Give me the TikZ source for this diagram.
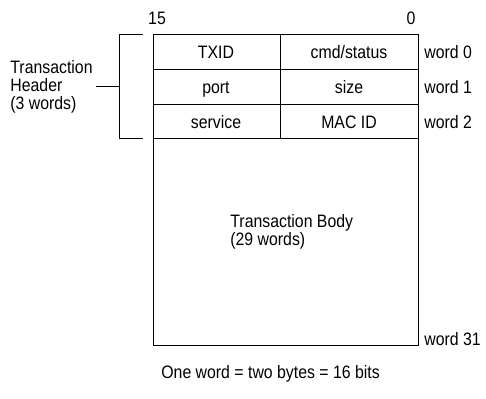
\documentclass[tikz,border=0pt]{standalone}
\usepackage{fontspec}
\setmainfont{Liberation Sans}[FakeStretch=0.88]
\usepackage{tikz}

\begin{document}
\begin{tikzpicture}[x=1pt,y=-1pt,line width=0.8pt]
\tikzstyle{lbl}=[inner sep=0pt,font=\fontsize{18}{18}\selectfont]
\tikzstyle{cell}=[lbl,anchor=center,text height=13pt,text depth=0pt]
\tikzstyle{wrd}=[cell,anchor=west]
\useasboundingbox (0,0) rectangle (486,398);
% frame of the 32 words
\draw (153,34) rectangle (418,345);
\draw (153,69) -- (418,69);
\draw (153,104) -- (418,104);
\draw (153,138) -- (418,138);
\draw (280,34) -- (280,138);
% bit numbers
\node[cell] (b15) at (157,18) {15};
\node[cell] (b0) at (411,18) {0};
% header fields
\node[cell] (txid) at (216,52) {TXID};
\node[cell] (cmd) at (349,52) {cmd/status};
\node[cell] (port) at (216,87) {port};
\node[cell] (size) at (349,87) {size};
\node[cell] (svc) at (216,122) {service};
\node[cell] (mac) at (349,122) {MAC ID};
% word numbers
\node[wrd] (w0) at (424,52) {word 0};
\node[wrd] (w1) at (424,87) {word 1};
\node[wrd] (w2) at (424,122) {word 2};
\node[wrd] (w31) at (424,339) {word 31};
% body
\node[lbl,anchor=base west,align=left] (body) at (230,245) {Transaction Body\\(29 words)};
% header bracket
\node[lbl,anchor=base west,align=left] (hdr) at (10,110) {Transaction\\Header\\(3 words)};
\draw (143,34) -- (119,34) -- (119,138) -- (143,138);
\coordinate (brk) at (119,86);
\draw (96,86) -- (brk);
% note
\node[cell,anchor=west] (note) at (161,372) {One word = two bytes = 16 bits};
\end{tikzpicture}
\end{document}
